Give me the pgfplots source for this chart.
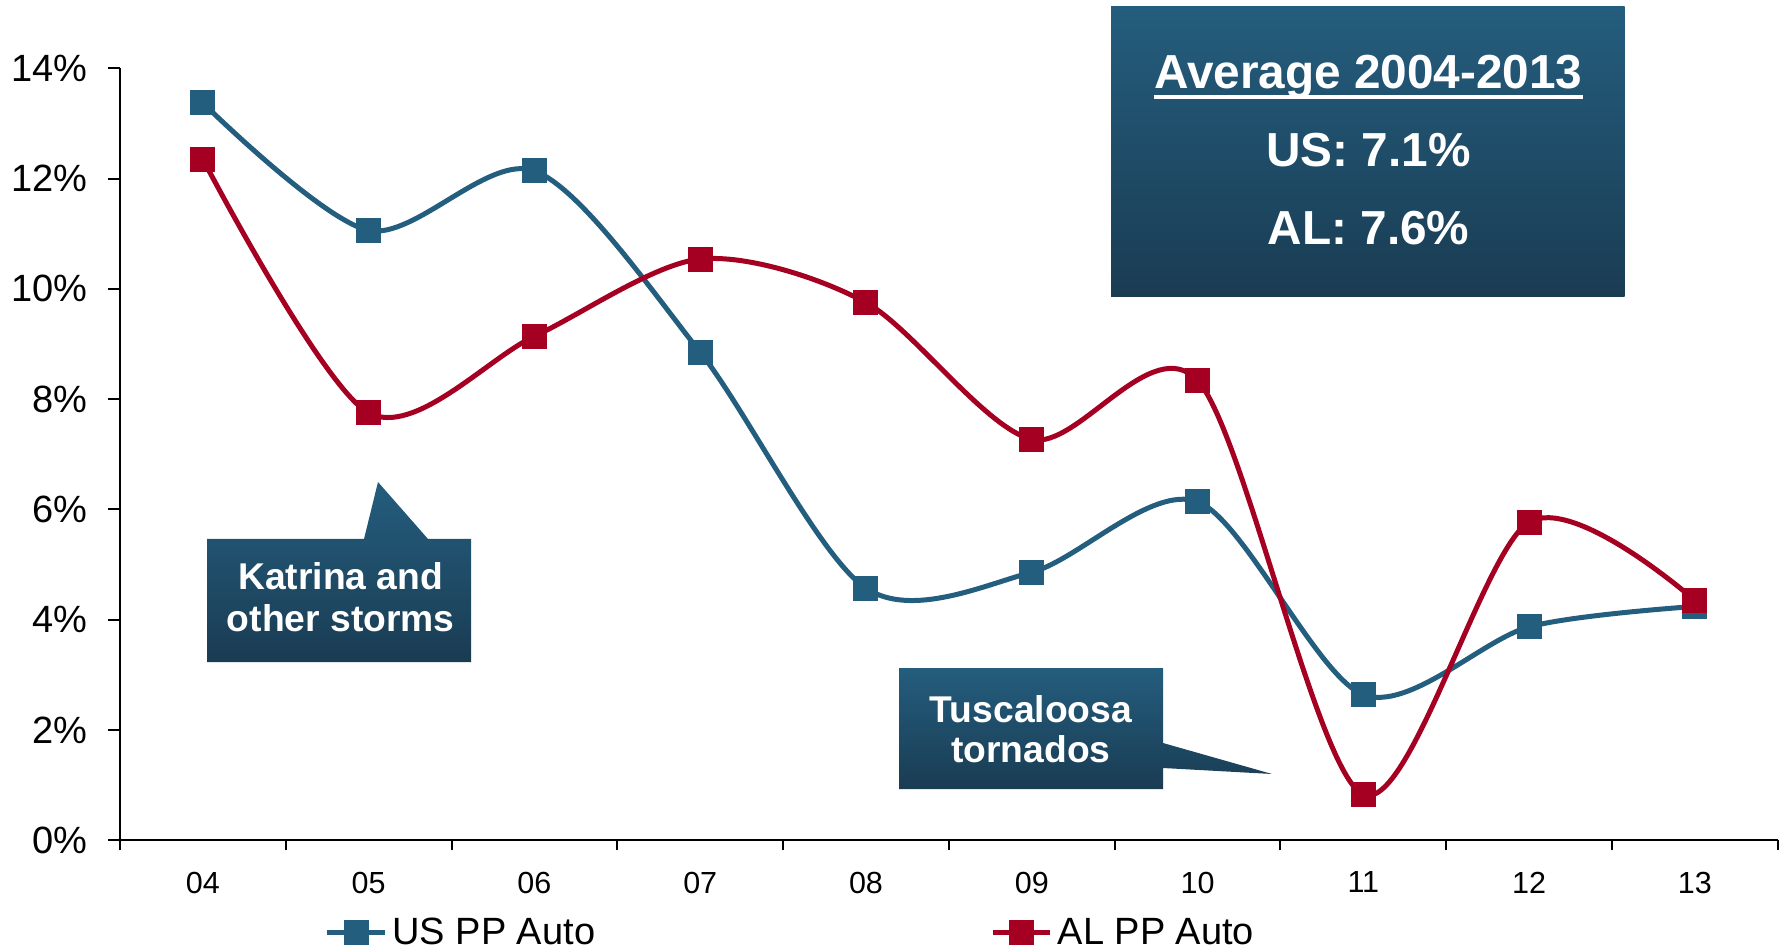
\documentclass[border=0pt]{standalone}
\usepackage{pgfplots}
\pgfplotsset{compat=1.18}
\usepackage{fontspec}
\setmainfont{Liberation Sans}
\definecolor{usblue}{HTML}{235E7E}
\definecolor{alred}{HTML}{A50021}
\definecolor{boxtop}{HTML}{245D7D}
\definecolor{boxbot}{HTML}{1A3C53}
\begin{document}
\begin{tikzpicture}[x=1pt,y=1pt]
\useasboundingbox (-48,-44.3) rectangle (666,336.1);
\begin{axis}[
  at={(0,0)}, anchor=south west,
  width=663.1pt, height=308.8pt, scale only axis,
  xmin=-0.5, xmax=9.5, ymin=0, ymax=14,
  axis x line=bottom, axis y line=left,
  axis line style={-, line width=0.8pt, black},
  xtick={0,...,9}, xticklabels={04,05,06,07,08,09,10,11,12,13},
  minor xtick={-0.5,0.5,...,9.5},
  major x tick style={draw=none},
  ytick={0,2,4,6,8,10,12,14},
  yticklabels={0\%,2\%,4\%,6\%,8\%,10\%,12\%,14\%},
  tick align=outside, major tick length=4.8pt, minor tick length=4pt,
  tick style={line width=0.8pt, black},
  xticklabel style={font=\fontsize{12.2}{14}\selectfont, yshift=-4.3pt},
  yticklabel style={font=\fontsize{15.2}{17}\selectfont, xshift=-4.8pt},
  clip=false,
  legend columns=2,
  legend style={at={(0.1233,-0.120)}, anchor=west, draw=none, fill=none,
    font=\fontsize{15.2}{17}\selectfont, inner sep=0pt,
    /tikz/every even column/.append style={column sep=156pt}},
  legend cell align=left,
  legend image code/.code={\draw[mark repeat=2,mark phase=2,#1] plot coordinates {(0pt,0pt) (11.5pt,0pt) (23pt,0pt)};},
]
\addplot[usblue, line width=2pt, smooth, mark=square*, mark size=4pt, mark options={solid, fill=usblue, draw=usblue}]
  coordinates {(0,13.37) (1,11.06) (2,12.14) (3,8.85) (4,4.57) (5,4.86) (6,6.14) (7,2.64) (8,3.87) (9,4.24)};
\addlegendentry{US PP Auto}
\addplot[alred, line width=2pt, smooth, mark=square*, mark size=4pt, mark options={solid, fill=alred, draw=alred}]
  coordinates {(0,12.35) (1,7.75) (2,9.14) (3,10.54) (4,9.75) (5,7.27) (6,8.34) (7,0.83) (8,5.77) (9,4.35)};
\addlegendentry{AL PP Auto}
\end{axis}
% Average box
\shade[top color=boxtop, bottom color=boxbot] (396.4,217.3) rectangle (601.8,333.3);
\node[white, anchor=base, inner sep=0pt, font=\bfseries\fontsize{19.1}{21}\selectfont] (avg) at (499.4,300.8) {Average 2004-2013};
\draw[white, line width=1.5pt] ([yshift=-3.4pt]avg.base west) -- ([yshift=-3.4pt]avg.base east);
\node[white, anchor=base, inner sep=0pt, font=\bfseries\fontsize{19.1}{21}\selectfont] at (499.4,269.4) {US: 7.1\%};
\node[white, anchor=base, inner sep=0pt, font=\bfseries\fontsize{19.1}{21}\selectfont] at (499.4,238.1) {AL: 7.6\%};
% Katrina callout
\shade[top color=boxtop, bottom color=boxbot] (34.8,71.3) -- (34.8,120.5) -- (97.6,120.5) -- (103.2,143.3) -- (123.2,120.5) -- (140.4,120.5) -- (140.4,71.3) -- cycle;
\node[white, anchor=base, inner sep=0pt, font=\bfseries\fontsize{14.9}{17}\selectfont] at (88.3,100.2) {Katrina and};
\node[white, anchor=base, inner sep=0pt, font=\bfseries\fontsize{14.9}{17}\selectfont] at (88.3,83.6) {other storms};
% Tuscaloosa callout
\shade[top color=boxtop, bottom color=boxbot] (311.6,20.5) -- (311.6,68.9) -- (417.2,68.9) -- (417.2,38.9) -- (460.8,26.5) -- (417.2,28.9) -- (417.2,20.5) -- cycle;
\node[white, anchor=base, inner sep=0pt, font=\bfseries\fontsize{14.9}{17}\selectfont] at (364.4,47.0) {Tuscaloosa};
\node[white, anchor=base, inner sep=0pt, font=\bfseries\fontsize{14.9}{17}\selectfont] at (364.4,31.0) {tornados};
\end{tikzpicture}
\end{document}
